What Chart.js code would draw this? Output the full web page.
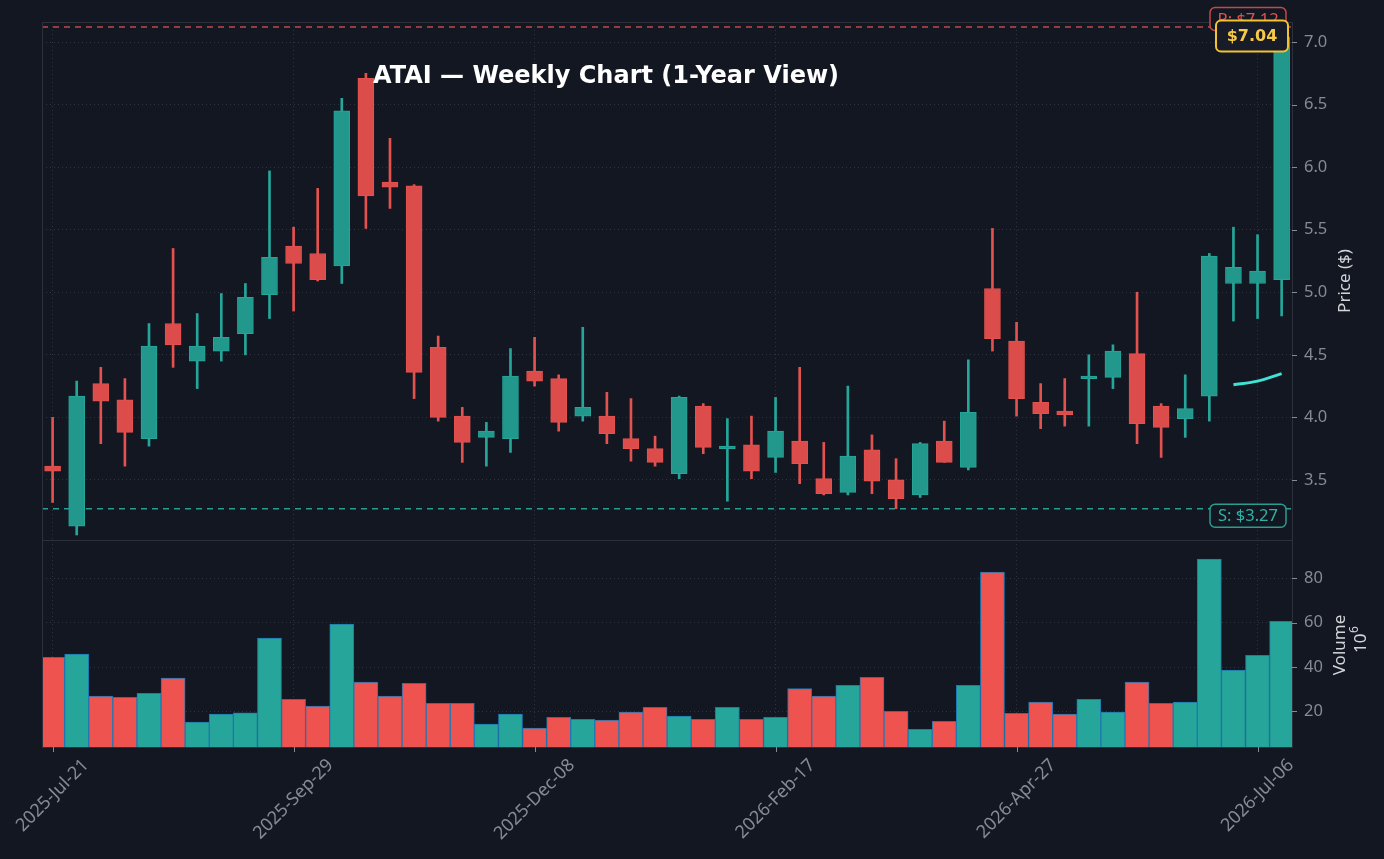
<!DOCTYPE html>
<html lang="en">
<head>
  <meta charset="UTF-8" />
  <title>ATAI — Weekly Chart (1-Year View)</title>
  <script src="https://cdn.jsdelivr.net/npm/chart.js"></script>
  <style>
    html, body {
      margin: 0;
      padding: 0;
      background: #131722;
    }
    body {
      width: 1384px;
      height: 859px;
      position: relative;
      overflow: hidden;
    }
    #priceChart { position: absolute; left: 0; top: 0; }
    #volumeChart { position: absolute; left: 0; top: 540px; }
  </style>
</head>
<body>
  <canvas id="priceChart" width="1384" height="541"></canvas>
  <canvas id="volumeChart" width="1384" height="319"></canvas>

  <script>
    // weekly candles, index 0 = 2025-Jul-21
    const opens  = [3.61, 3.13, 4.27, 4.14, 3.83, 4.75, 4.45, 4.53, 4.67, 4.98,
                    5.37, 5.31, 5.21, 6.71, 5.88, 5.85, 4.56, 4.01, 3.84, 3.83,
                    4.37, 4.31, 4.01, 4.01, 3.83, 3.75, 3.55, 4.09, 3.75, 3.78,
                    3.68, 3.81, 3.51, 3.40, 3.74, 3.50, 3.38, 3.81, 3.60, 5.03,
                    4.61, 4.12, 4.05, 4.31, 4.32, 4.51, 4.09, 3.99, 4.17, 5.07,
                    5.07, 5.10];
    const highs  = [4.00, 4.29, 4.40, 4.31, 4.75, 5.35, 4.83, 4.99, 5.07, 5.97,
                    5.52, 5.83, 6.55, 6.75, 6.23, 5.86, 4.65, 4.08, 3.96, 4.55,
                    4.64, 4.34, 4.72, 4.20, 4.15, 3.85, 4.17, 4.11, 3.99, 4.01,
                    4.16, 4.40, 3.80, 4.25, 3.86, 3.67, 3.80, 3.97, 4.46, 5.51,
                    4.76, 4.27, 4.31, 4.50, 4.58, 5.00, 4.11, 4.34, 5.31, 5.52,
                    5.46, 7.12];
    const lows   = [3.32, 3.06, 3.79, 3.61, 3.77, 4.40, 4.23, 4.45, 4.50, 4.79,
                    4.85, 5.09, 5.07, 5.51, 5.67, 4.15, 3.97, 3.64, 3.61, 3.72,
                    4.25, 3.89, 3.97, 3.79, 3.65, 3.61, 3.51, 3.71, 3.33, 3.51,
                    3.56, 3.47, 3.38, 3.38, 3.39, 3.27, 3.36, 3.64, 3.58, 4.53,
                    4.01, 3.91, 3.93, 3.93, 4.23, 3.79, 3.68, 3.84, 3.97, 4.77,
                    4.79, 4.81];
    const closes = [3.57, 4.17, 4.13, 3.88, 4.57, 4.58, 4.57, 4.64, 4.96, 5.28,
                    5.23, 5.10, 6.45, 5.77, 5.84, 4.36, 4.00, 3.80, 3.89, 4.33,
                    4.29, 3.96, 4.08, 3.87, 3.75, 3.64, 4.16, 3.76, 3.77, 3.57,
                    3.89, 3.63, 3.39, 3.69, 3.49, 3.35, 3.79, 3.64, 4.04, 4.63,
                    4.15, 4.03, 4.02, 4.33, 4.53, 3.95, 3.92, 4.07, 5.29, 5.20,
                    5.17, 7.04];
    // volume in millions
    const volumes = [44.4, 45.8, 26.9, 26.4, 28.2, 35.0, 15.2, 18.8, 19.4, 53.0,
                     25.5, 22.4, 59.3, 33.2, 26.9, 32.7, 23.7, 23.7, 14.3, 18.8,
                     12.5, 17.4, 16.5, 16.1, 19.7, 21.9, 17.9, 16.5, 21.9, 16.5,
                     17.4, 30.3, 26.9, 31.8, 35.4, 20.1, 12.0, 15.6, 31.8, 82.7,
                     19.2, 24.2, 18.8, 25.5, 19.7, 33.2, 23.7, 24.2, 88.6, 38.6,
                     45.3, 60.6];
    // short moving average segment at the right edge
    const maIndex  = [49, 50, 51];
    const maValues = [4.26, 4.29, 4.35];

    const resistance = 7.12;
    const support = 3.27;
    const lastPrice = 7.04;

    const xTickIndex  = [0, 10, 20, 30, 40, 50];
    const xTickLabels = ['2025-Jul-21', '2025-Sep-29', '2025-Dec-08',
                         '2026-Feb-17', '2026-Apr-27', '2026-Jul-06'];
    const priceTicks  = [3.5, 4.0, 4.5, 5.0, 5.5, 6.0, 6.5, 7.0];
    const volumeTicks = [20, 40, 60, 80];

    const chartTitle = 'ATAI — Weekly Chart (1-Year View)';

    // colours
    const BG = '#131722';
    const SPINE = '#2c303b';
    const GRID = '#30343f';
    const TICK_TEXT = '#858a94';
    const LABEL_TEXT = '#d2d4d8';
    const UP_FILL = '#22978b', UP_EDGE = '#26a69a';
    const DOWN_FILL = '#dc4c4b', DOWN_EDGE = '#e3524f';
    const VOL_UP = '#26a69a', VOL_DOWN = '#ef5350';

    const FONT = '"Noto Sans", sans-serif';
    const TITLE_FONT = '"DejaVu Sans", sans-serif';
    const X_MIN = -0.44, X_MAX = 51.43;

    const isUp = closes.map((c, i) => c >= opens[i]);
    const bodies = opens.map((o, i) => ({ x: i, y: [o, closes[i]] }));
    const wicks = lows.map((l, i) => ({ x: i, y: [l, highs[i]] }));
    const volPoints = volumes.map((v, i) => ({ x: i, y: v }));
    const maPoints = maIndex.map((x, k) => ({ x, y: maValues[k] }));

    function roundRect(ctx, x, y, w, h, r) {
      ctx.beginPath();
      ctx.moveTo(x + r, y);
      ctx.arcTo(x + w, y, x + w, y + h, r);
      ctx.arcTo(x + w, y + h, x, y + h, r);
      ctx.arcTo(x, y + h, x, y, r);
      ctx.arcTo(x, y, x + w, y, r);
      ctx.closePath();
    }

    function drawFrame(chart) {
      const { ctx, chartArea: a } = chart;
      ctx.save();
      ctx.strokeStyle = SPINE;
      ctx.lineWidth = 1;
      ctx.strokeRect(Math.round(a.left) + 0.5, Math.round(a.top) + 0.5,
                     Math.round(a.right - a.left), Math.round(a.bottom - a.top));
      // y tick marks
      const y = chart.scales.y;
      ctx.strokeStyle = TICK_TEXT;
      ctx.beginPath();
      y.ticks.forEach(t => {
        const py = Math.round(y.getPixelForValue(t.value)) + 0.5;
        ctx.moveTo(a.right, py);
        ctx.lineTo(a.right + 5, py);
      });
      ctx.stroke();
      ctx.restore();
    }

    function hline(ctx, a, py, color) {
      ctx.save();
      ctx.strokeStyle = color;
      ctx.lineWidth = 1.5;
      ctx.setLineDash([6, 5]);
      ctx.beginPath();
      ctx.moveTo(a.left, py);
      ctx.lineTo(a.right, py);
      ctx.stroke();
      ctx.restore();
    }

    function tag(ctx, text, cx, cy, w, h, stroke, fill, color, font, lw) {
      ctx.save();
      roundRect(ctx, cx - w / 2, cy - h / 2, w, h, 5);
      ctx.fillStyle = fill;
      ctx.fill();
      ctx.lineWidth = lw;
      ctx.strokeStyle = stroke;
      ctx.stroke();
      ctx.fillStyle = color;
      ctx.font = font;
      ctx.textAlign = 'center';
      ctx.textBaseline = 'middle';
      ctx.fillText(text, cx, cy + 1);
      ctx.restore();
    }

    const pricePlugin = {
      id: 'priceDecor',
      beforeDatasetsDraw(chart) {
        const { ctx, chartArea: a, scales: { y } } = chart;
        hline(ctx, a, y.getPixelForValue(resistance), '#c44a48');
        hline(ctx, a, y.getPixelForValue(support), '#2a9d92');
      },
      afterDatasetsDraw(chart) {
        const { ctx, chartArea: a, scales: { y } } = chart;
        drawFrame(chart);
        const rY = y.getPixelForValue(resistance);
        const sY = y.getPixelForValue(support);
        tag(ctx, 'R: $' + resistance.toFixed(2), a.right - 44, rY - 8, 76, 23,
            '#c44a48', BG, '#e0524f', '16.5px ' + FONT, 1.5);
        tag(ctx, 'S: $' + support.toFixed(2), a.right - 44, sY + 7, 76, 23,
            '#2a9d92', BG, '#2fb2a5', '16.5px ' + FONT, 1.5);
        tag(ctx, '$' + lastPrice.toFixed(2), a.right - 40, y.getPixelForValue(lastPrice) - 1, 72, 31,
            '#f2c233', '#181b28', '#f7c948', 'bold 16px ' + TITLE_FONT, 2);

        ctx.save();
        ctx.fillStyle = '#ffffff';
        ctx.font = 'bold 24px ' + TITLE_FONT;
        ctx.textAlign = 'center';
        ctx.textBaseline = 'middle';
        ctx.fillText(chartTitle, 606, 77);

        ctx.translate(1345, (a.top + a.bottom) / 2);
        ctx.rotate(-Math.PI / 2);
        ctx.font = '17px ' + FONT;
        ctx.fillStyle = LABEL_TEXT;
        ctx.fillText('Price ($)', 0, 0);
        ctx.restore();
      }
    };

    const volumePlugin = {
      id: 'volumeDecor',
      afterDatasetsDraw(chart) {
        const { ctx, chartArea: a, scales: { x } } = chart;
        drawFrame(chart);
        ctx.save();
        // x tick marks and rotated labels
        ctx.strokeStyle = TICK_TEXT;
        ctx.beginPath();
        xTickIndex.forEach(v => {
          const px = Math.round(x.getPixelForValue(v)) + 0.5;
          ctx.moveTo(px, a.bottom);
          ctx.lineTo(px, a.bottom + 5);
        });
        ctx.stroke();
        ctx.font = '18px ' + FONT;
        ctx.fillStyle = TICK_TEXT;
        ctx.textAlign = 'center';
        ctx.textBaseline = 'middle';
        xTickIndex.forEach((v, k) => {
          const px = x.getPixelForValue(v);
          const w = ctx.measureText(xTickLabels[k]).width;
          const cy = a.bottom + 11 + (w + 12) / (2 * Math.SQRT2);
          ctx.save();
          ctx.translate(px, cy);
          ctx.rotate(-Math.PI / 4);
          ctx.fillText(xTickLabels[k], 0, 0);
          ctx.restore();
        });
        // axis title with 10^6 multiplier
        ctx.font = '17px ' + FONT;
        ctx.save();
        ctx.translate(1340, 105);
        ctx.rotate(-Math.PI / 2);
        ctx.fillStyle = LABEL_TEXT;
        ctx.fillText('Volume', 0, 0);
        ctx.restore();
        ctx.save();
        ctx.translate(1361, 100);
        ctx.rotate(-Math.PI / 2);
        ctx.fillStyle = LABEL_TEXT;
        ctx.textAlign = 'left';
        ctx.fillText('10', -13, 0);
        ctx.font = '12px ' + FONT;
        ctx.fillText('6', 7, -6);
        ctx.restore();
        ctx.restore();
      }
    };

    function xScale(bottomHeight) {
      return {
        type: 'linear',
        min: X_MIN,
        max: X_MAX,
        offset: false,
        afterBuildTicks: s => { s.ticks = xTickIndex.map(v => ({ value: v })); },
        afterFit: s => {
          s.height = bottomHeight;
          s.paddingLeft = 0;
          s.paddingRight = 0;
        },
        ticks: { display: false },
        grid: { color: GRID, drawTicks: false, offset: false, lineWidth: 1 },
        border: { display: false, dash: [1, 3] }
      };
    }

    function yScale(min, max, tickValues, digits) {
      return {
        position: 'right',
        min,
        max,
        afterBuildTicks: s => { s.ticks = tickValues.map(v => ({ value: v })); },
        afterFit: s => {
          s.width = 92;
          s.paddingTop = 0;
          s.paddingBottom = 0;
        },
        ticks: {
          color: TICK_TEXT,
          padding: 12,
          font: { family: FONT, size: 16.5 },
          callback: v => Number(v).toFixed(digits)
        },
        grid: { color: GRID, drawTicks: false, lineWidth: 1 },
        border: { display: false, dash: [1, 3] }
      };
    }

    new Chart(document.getElementById('priceChart'), {
      type: 'bar',
      data: {
        datasets: [
          {
            type: 'line',
            data: maPoints,
            borderColor: '#3fe3d3',
            borderWidth: 3,
            pointRadius: 0,
            tension: 0.3
          },
          {
            type: 'bar',
            data: bodies,
            backgroundColor: isUp.map(u => u ? UP_FILL : DOWN_FILL),
            borderColor: isUp.map(u => u ? UP_EDGE : DOWN_EDGE),
            borderWidth: 1,
            borderSkipped: false,
            barThickness: 16,
            grouped: false
          },
          {
            type: 'bar',
            data: wicks,
            backgroundColor: isUp.map(u => u ? UP_EDGE : DOWN_EDGE),
            borderWidth: 0,
            barThickness: 2,
            grouped: false
          }
        ]
      },
      options: {
        responsive: false,
        animation: false,
        layout: { padding: { left: 42, top: 22, right: 0, bottom: 1 } },
        plugins: { legend: { display: false }, tooltip: { enabled: false } },
        scales: {
          x: xScale(0),
          y: yScale(3.02, 7.16, priceTicks, 1)
        }
      },
      plugins: [pricePlugin]
    });

    new Chart(document.getElementById('volumeChart'), {
      type: 'bar',
      data: {
        datasets: [{
          data: volPoints,
          backgroundColor: isUp.map(u => u ? VOL_UP : VOL_DOWN),
          borderColor: '#1f77b4',
          borderWidth: 1,
          borderSkipped: false,
          barPercentage: 1,
          categoryPercentage: 1
        }]
      },
      options: {
        responsive: false,
        animation: false,
        layout: { padding: { left: 42, top: 0, right: 0, bottom: 0 } },
        plugins: { legend: { display: false }, tooltip: { enabled: false } },
        scales: {
          x: xScale(112),
          y: yScale(4.0, 97.2, volumeTicks, 0)
        }
      },
      plugins: [volumePlugin]
    });
  </script>
</body>
</html>
